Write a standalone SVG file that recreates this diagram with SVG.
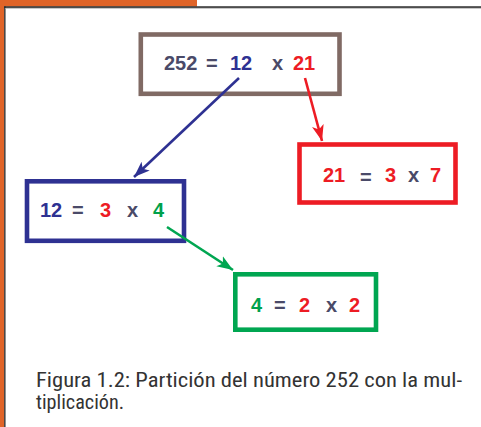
<svg xmlns="http://www.w3.org/2000/svg" width="481" height="427" viewBox="0 0 481 427">
<defs>
<style>
.t{font-family:"Liberation Sans",Arial,sans-serif;font-weight:bold;font-size:20px}
.g{fill:#4a4a68}.b{fill:#2e3192}.r{fill:#ed1c24}.gr{fill:#00a14b}
.box{fill:#fff;stroke-width:4.6}
.cap{font-family:"Liberation Sans Narrow","Roboto Condensed","Liberation Sans",sans-serif;font-size:21px;fill:#333}
.conn{fill:none;stroke-width:2.6}
</style>
<marker id="mb" markerUnits="userSpaceOnUse" markerWidth="18" markerHeight="14" refX="16" refY="7" orient="auto"><path d="M0,1 L16,7 L0,13 L4,7 Z" fill="#2e3192"/></marker>
<marker id="mr" markerUnits="userSpaceOnUse" markerWidth="18" markerHeight="14" refX="16" refY="7" orient="auto"><path d="M0,1 L16,7 L0,13 L4,7 Z" fill="#ed1c24"/></marker>
<marker id="mg" markerUnits="userSpaceOnUse" markerWidth="18" markerHeight="14" refX="16" refY="7" orient="auto"><path d="M0,1 L16,7 L0,13 L4,7 Z" fill="#00a651"/></marker>
</defs>
<rect width="481" height="427" fill="#fff"/>
<rect x="0" y="0" width="197" height="6.5" fill="#e06428"/>
<rect x="0" y="0" width="4.2" height="427" fill="#e06428"/>
<rect x="4.2" y="6.3" width="476.8" height="1.5" fill="#222"/>
<rect x="4.2" y="6.3" width="1.3" height="420.7" fill="#222"/>
<rect x="5.5" y="8" width="475.5" height="0.8" fill="#bbb"/>

<g id="n252">
<rect class="box" x="140.8" y="34.5" width="198.7" height="59.3" stroke="#806a64"/>
<text class="t" y="70"><tspan class="g" x="164">252</tspan><tspan class="g" x="206">=</tspan><tspan class="b" x="230">12</tspan><tspan class="g" x="272">x</tspan><tspan class="r" x="293">21</tspan></text>
</g>
<g id="n21">
<rect class="box" x="299.5" y="144.5" width="156" height="58" stroke="#ed1c24"/>
<text class="t" y="182"><tspan class="r" x="323">21</tspan><tspan class="g" x="360" dy="2">=</tspan><tspan class="r" x="385" dy="-2">3</tspan><tspan class="g" x="408">x</tspan><tspan class="r" x="430">7</tspan></text>
</g>
<g id="n12">
<rect class="box" x="27" y="181.3" width="157" height="59.5" stroke="#2e3192"/>
<text class="t" y="217"><tspan class="b" x="40">12</tspan><tspan class="g" x="72">=</tspan><tspan class="r" x="100">3</tspan><tspan class="g" x="127">x</tspan><tspan class="gr" x="153">4</tspan></text>
</g>
<g id="n4">
<rect class="box" x="235.3" y="274.3" width="140.7" height="55.4" stroke="#00a651"/>
<text class="t" y="312"><tspan class="gr" x="251">4</tspan><tspan class="g" x="274">=</tspan><tspan class="r" x="299">2</tspan><tspan class="g" x="326">x</tspan><tspan class="r" x="349">2</tspan></text>
</g>

<g id="connectors">
<line class="conn" x1="239" y1="78" x2="134" y2="177" stroke="#2e3192" marker-end="url(#mb)"/>
<line class="conn" x1="305" y1="78" x2="322" y2="141" stroke="#ed1c24" marker-end="url(#mr)"/>
<line class="conn" x1="167" y1="227" x2="233" y2="270" stroke="#00a651" marker-end="url(#mg)"/>
</g>

<text class="cap" x="36" y="386.5" textLength="426" lengthAdjust="spacingAndGlyphs">Figura 1.2: Partición del número 252 con la mul-</text>
<text class="cap" x="36" y="409" textLength="88" lengthAdjust="spacingAndGlyphs">tiplicación.</text>
</svg>
